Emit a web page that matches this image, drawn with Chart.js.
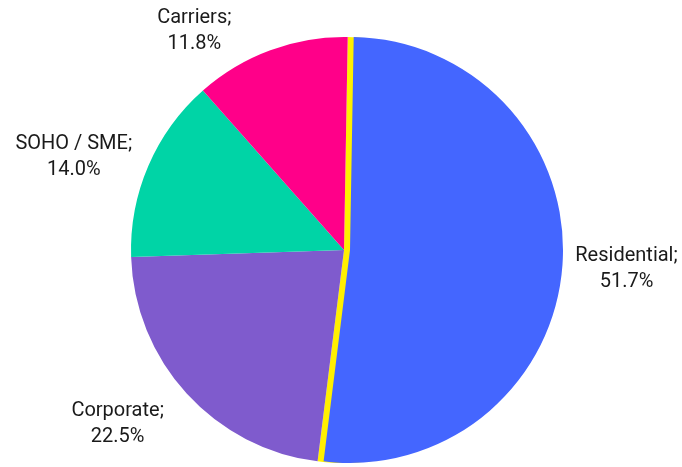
<!DOCTYPE html>
<html lang="en">

<head>
    <meta charset="UTF-8">
    <title>pie chart</title>
    <script src="https://cdn.jsdelivr.net/npm/chart.js"></script>
    <style>
        html, body { margin: 0; padding: 0; background: #fff; overflow: hidden; }
        .layer { width: 682px; height: 467px; position: absolute; top: 0; left: 0; }
    </style>
</head>

<body>
    <!-- base pie (residential slice drawn yellow), pulled out residential slice on top -->
    <div class="layer" id="baseWrap"><canvas id="baseChart"></canvas></div>
    <div class="layer" id="topWrap"><canvas id="topChart"></canvas></div>
    <script>
        // segments and their share in %
        const categories = ['Residential', 'Corporate', 'SOHO / SME', 'Carriers'];
        const shares = [51.7, 22.5, 14.0, 11.8];
        const sliceColors = ['#4466ff', '#7f5bcd', '#00d4a6', '#ff0089'];
        const gapColor = '#fff000';

        const pullOut = 6; // px the residential slice is pulled to the right
        document.getElementById('topWrap').style.left = pullOut + 'px';

        // small nudges for the outside labels (x, y)
        const labelNudge = [[1, 1], [-26, 8], [-10, 4], [-59, 12]];

        const outsideLabels = {
            id: 'outsideLabels',
            afterDatasetsDraw(chart) {
                let ctx = chart.ctx;
                let meta = chart.getDatasetMeta(0);
                ctx.save();
                ctx.font = '20px Roboto';
                ctx.fillStyle = '#1a1a1a';
                ctx.textAlign = 'center';
                ctx.textBaseline = 'middle';
                meta.data.forEach(function (arc, i) {
                    let mid = (arc.startAngle + arc.endAngle) / 2;
                    let dx = Math.cos(mid), dy = Math.sin(mid);
                    let shift = i == 0 ? pullOut : 0;
                    let line1 = categories[i] + ';';
                    let line2 = shares[i].toFixed(1) + '%';
                    let halfW = Math.max(ctx.measureText(line1).width, ctx.measureText(line2).width) / 2;
                    let halfH = 21;
                    let r = arc.outerRadius + 12;
                    let x = arc.x + dx * (shift + r) + dx * halfW + labelNudge[i][0];
                    let y = arc.y + dy * (shift + r) + dy * halfH + labelNudge[i][1];
                    ctx.fillText(line1, x, y - 13);
                    ctx.fillText(line2, x, y + 13);
                });
                ctx.restore();
            }
        };

        function pieConfig(colors, extra) {
            return {
                type: 'pie'
                , data: {
                    labels: categories
                    , datasets: [{
                        data: shares
                        , backgroundColor: colors
                        , borderWidth: 0
                        , hoverOffset: 0
                    }]
                }
                , options: {
                    responsive: true
                    , maintainAspectRatio: false
                    , animation: false
                    , rotation: 1
                    , layout: {
                        padding: { top: 37, bottom: 4, left: 6, right: 0 }
                    }
                    , plugins: {
                        legend: { display: false }
                        , tooltip: { enabled: false }
                    }
                }
                , plugins: extra
            };
        }

        let baseColors = [gapColor].concat(sliceColors.slice(1));
        let topColors = [sliceColors[0], 'rgba(0,0,0,0)', 'rgba(0,0,0,0)', 'rgba(0,0,0,0)'];

        let baseChart = new Chart(document.getElementById('baseChart'), pieConfig(baseColors, [outsideLabels]));
        let topChart = new Chart(document.getElementById('topChart'), pieConfig(topColors, []));
    </script>
</body>

</html>
